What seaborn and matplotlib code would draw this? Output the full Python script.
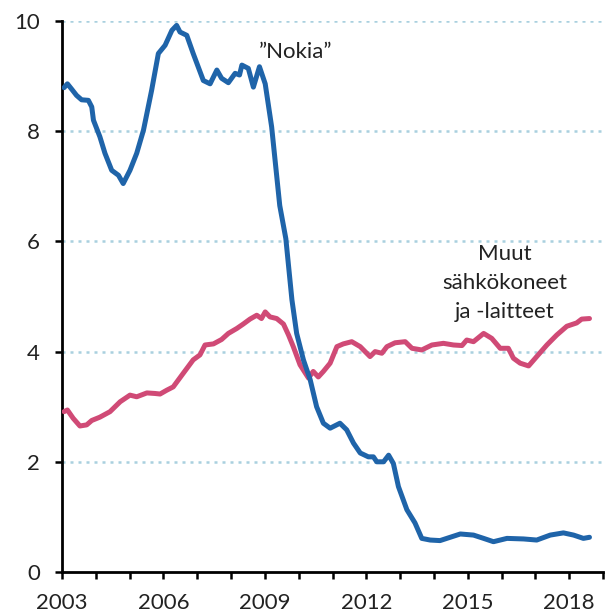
import matplotlib
matplotlib.use("Agg")
import matplotlib.pyplot as plt
import seaborn as sns
import pandas as pd

# "Nokia" series
nokia_years = [2003.06, 2003.16, 2003.29, 2003.43, 2003.58, 2003.78, 2003.88, 2003.93, 2004.12, 2004.27,
               2004.47, 2004.67, 2004.81, 2005.01, 2005.21, 2005.41, 2005.65, 2005.85, 2006.05, 2006.25,
               2006.39, 2006.49, 2006.69, 2006.88, 2007.18, 2007.38, 2007.58, 2007.72, 2007.92, 2008.12,
               2008.25, 2008.32, 2008.51, 2008.66, 2008.84, 2009.01, 2009.20, 2009.44, 2009.62, 2009.80,
               2009.94, 2010.14, 2010.34, 2010.53, 2010.73, 2010.93, 2011.22, 2011.42, 2011.62, 2011.82,
               2012.06, 2012.21, 2012.31, 2012.51, 2012.66, 2012.80, 2012.95, 2013.20, 2013.44, 2013.64,
               2013.89, 2014.18, 2014.48, 2014.78, 2015.17, 2015.47, 2015.76, 2016.16, 2016.65, 2017.04,
               2017.44, 2017.83, 2018.13, 2018.42, 2018.60]
nokia_vals = [8.79, 8.86, 8.76, 8.65, 8.57, 8.56, 8.44, 8.20, 7.90, 7.60,
              7.29, 7.20, 7.05, 7.29, 7.60, 8.02, 8.74, 9.41, 9.56, 9.83,
              9.92, 9.80, 9.74, 9.41, 8.92, 8.86, 9.11, 8.96, 8.88, 9.05,
              9.02, 9.20, 9.14, 8.80, 9.17, 8.86, 8.08, 6.65, 6.05, 4.94,
              4.33, 3.85, 3.49, 3.00, 2.70, 2.61, 2.70, 2.58, 2.34, 2.16,
              2.09, 2.09, 2.00, 2.00, 2.12, 1.97, 1.55, 1.13, 0.89, 0.61,
              0.58, 0.57, 0.63, 0.69, 0.67, 0.61, 0.55, 0.61, 0.60, 0.58,
              0.67, 0.71, 0.67, 0.61, 0.63]

# "Muut sähkökoneet ja -laitteet" series
muut_years = [2003.06, 2003.16, 2003.33, 2003.53, 2003.73, 2003.88, 2004.12, 2004.42, 2004.72, 2005.01,
              2005.21, 2005.51, 2005.75, 2005.90, 2006.10, 2006.29, 2006.59, 2006.88, 2007.08, 2007.23,
              2007.48, 2007.72, 2007.92, 2008.17, 2008.36, 2008.56, 2008.76, 2008.90, 2009.01, 2009.15,
              2009.35, 2009.55, 2009.70, 2009.84, 2010.04, 2010.29, 2010.43, 2010.58, 2010.73, 2010.93,
              2011.13, 2011.32, 2011.57, 2011.82, 2012.11, 2012.26, 2012.46, 2012.61, 2012.85, 2013.15,
              2013.35, 2013.64, 2013.94, 2014.28, 2014.58, 2014.83, 2014.97, 2015.17, 2015.47, 2015.71,
              2015.96, 2016.20, 2016.35, 2016.55, 2016.80, 2017.04, 2017.34, 2017.63, 2017.93, 2018.22,
              2018.37, 2018.60]
muut_vals = [2.91, 2.94, 2.79, 2.65, 2.67, 2.75, 2.81, 2.91, 3.09, 3.21,
             3.18, 3.25, 3.24, 3.23, 3.30, 3.36, 3.61, 3.85, 3.94, 4.12,
             4.14, 4.22, 4.33, 4.42, 4.50, 4.59, 4.66, 4.60, 4.72, 4.63,
             4.60, 4.50, 4.30, 4.09, 3.76, 3.52, 3.64, 3.54, 3.64, 3.79,
             4.09, 4.14, 4.18, 4.09, 3.91, 4.00, 3.97, 4.09, 4.16, 4.18,
             4.06, 4.03, 4.12, 4.15, 4.12, 4.11, 4.21, 4.18, 4.33, 4.24,
             4.06, 4.06, 3.88, 3.79, 3.74, 3.91, 4.12, 4.30, 4.46, 4.52,
             4.59, 4.60]

y_ticks = [0, 2, 4, 6, 8, 10]
x_label_years = [2003, 2006, 2009, 2012, 2015, 2018]

sns.set_theme(style="white")
plt.rcParams['font.family'] = ['Lato', 'DejaVu Sans']

BLUE = "#1f64a9"
PINK = "#d04a76"
GRID = "#a9d0df"
TXT = "#222222"

fig = plt.figure(figsize=(6.07, 6.14), dpi=100)
ax = fig.add_axes([62/607, 42/614, (603-62)/607, (572-21)/614])

for yv in y_ticks[1:]:
    ax.axhline(yv, color=GRID, lw=1.8, ls=(0, (1.2, 2.0)), zorder=0)

df_n = pd.DataFrame({"year": nokia_years, "value": nokia_vals})
df_m = pd.DataFrame({"year": muut_years, "value": muut_vals})
sns.lineplot(data=df_m, x="year", y="value", ax=ax, color=PINK, lw=3.6, sort=False,
             solid_joinstyle="round", solid_capstyle="round", zorder=3)
sns.lineplot(data=df_n, x="year", y="value", ax=ax, color=BLUE, lw=3.6, sort=False,
             solid_joinstyle="round", solid_capstyle="round", zorder=4)

ax.set_xlim(2003, 2019)
ax.set_ylim(0, 10)
ax.set_xlabel("")
ax.set_ylabel("")
ax.set_yticks(y_ticks)
ax.set_yticklabels([str(v) for v in y_ticks])
ax.set_xticks(range(2003, 2020))
ax.set_xticklabels([str(y) if y in x_label_years else "" for y in range(2003, 2020)])

for s in ["top", "right"]:
    ax.spines[s].set_visible(False)
for s in ["left", "bottom"]:
    ax.spines[s].set_color("black")
    ax.spines[s].set_linewidth(2.0)
ax.tick_params(axis="both", direction="out", length=5, width=1.8, color="black",
               labelsize=16, labelcolor=TXT, left=True, bottom=True)
ax.tick_params(axis="x", pad=10)
ax.tick_params(axis="y", pad=11)

ax.text(2009.9, 9.43, "\u201dNokia\u201d", fontsize=16, color=TXT, ha="center", va="center")
ax.text(2016.1, 5.95, "Muut\nsähkökoneet\nja -laitteet", fontsize=16, color=TXT,
        ha="center", va="top", linespacing=1.55)

fig.savefig("out.png", dpi=100)
